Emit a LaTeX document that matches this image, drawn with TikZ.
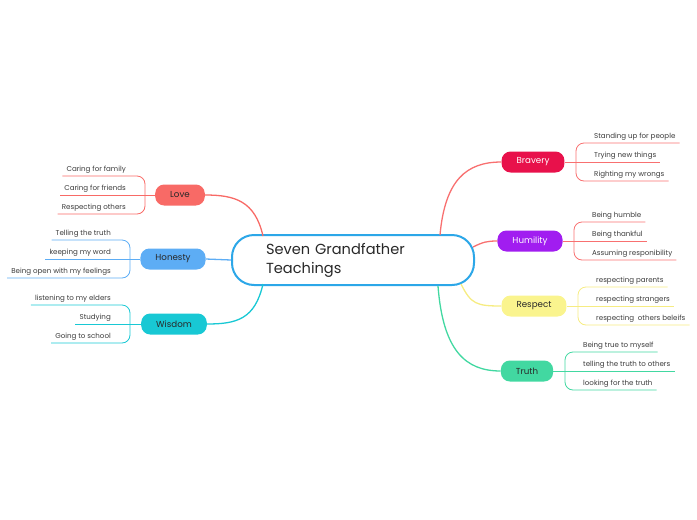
\documentclass[tikz,border=0pt]{standalone}
\usepackage{fontspec}
\setmainfont{Poppins}
\definecolor{hubblue}{RGB}{44,167,232}
\definecolor{inkgray}{RGB}{40,40,40}
\definecolor{leafgray}{RGB}{60,60,60}
\definecolor{lovecol}{RGB}{248,106,102}
\definecolor{honestycol}{RGB}{93,173,245}
\definecolor{wisdomcol}{RGB}{24,200,212}
\definecolor{braverycol}{RGB}{232,17,75}
\definecolor{humilitycol}{RGB}{161,29,240}
\definecolor{corallin}{RGB}{248,112,112}
\definecolor{respectcol}{RGB}{250,244,142}
\definecolor{respectlin}{RGB}{246,236,130}
\definecolor{truthcol}{RGB}{66,216,161}
\tikzset{
  hub/.style={draw=hubblue, line width=2pt, fill=white, rounded corners=22pt,
    minimum height=50pt, text width=174pt, inner xsep=34pt, align=left,
    font=\fontsize{14.6}{19}\selectfont, text=inkgray},
  branch/.style={rounded corners=9pt, minimum height=21pt, inner xsep=15pt,
    font=\fontsize{8.7}{10}\selectfont, text=inkgray},
  leaf/.style={inner xsep=4pt, inner ysep=2.5pt, text height=6pt, text depth=1.5pt,
    font=\fontsize{7.1}{8}\selectfont, text=leafgray},
  leafL/.style={leaf, anchor=south east},
  leafR/.style={leaf, anchor=south west},
  twig/.style={line width=0.8pt, rounded corners=8pt},
  limb/.style={line width=1.3pt}
}
\begin{document}
\begin{tikzpicture}[x=1pt,y=-1pt]
\useasboundingbox (0,0) rectangle (697,520);
% centre
\node[hub] (seven) at (353,260) {Seven Grandfather\\Teachings};
\coordinate (s-love) at (263,236);
\coordinate (s-wisdom) at (263,284);
\coordinate (s-bravery) at (440,235);
\coordinate (s-humility) at (473,247);
\coordinate (s-respect) at (461,284);
\coordinate (s-truth) at (438,286);
% the branches
\node[branch, fill=lovecol] (love) at (180,195) {Love};
\node[branch, fill=honestycol] (honesty) at (173,259) {Honesty};
\node[branch, fill=wisdomcol] (wisdom) at (174,324) {Wisdom};
\node[branch, fill=braverycol, text=white] (bravery) at (533,162) {Bravery};
\node[branch, fill=humilitycol, text=white] (humility) at (530,241) {Humility};
\node[branch, fill=respectcol] (respect) at (534,306) {Respect};
\node[branch, fill=truthcol] (truth) at (527,371) {Truth};
\draw[limb, lovecol] (s-love) .. controls +(-8,-35) and +(30,0) .. (love.east);
\draw[limb, honestycol] (seven.west) -- (honesty.east);
\draw[limb, wisdomcol] (s-wisdom) .. controls +(-8,35) and +(30,0) .. (wisdom.east);
\draw[limb, corallin] (s-bravery) .. controls +(5,-55) and +(-35,0) .. (bravery.west);
\draw[limb, corallin] (s-humility) .. controls +(10,-5) and +(-10,0) .. (humility.west);
\draw[limb, respectlin] (s-respect) .. controls +(10,20) and +(-25,0) .. (respect.west);
\draw[limb, truthcol] (s-truth) .. controls +(5,65) and +(-35,0) .. (truth.west);
% Love
\coordinate (lovec) at (145,195);
\node[leafL] (love1) at (130,176) {Caring for family};
\node[leafL] (love2) at (130,195) {Caring for friends};
\node[leafL] (love3) at (130,214) {Respecting others};
\draw[twig, lovecol] (love.west) -- (lovec);
\draw[twig, lovecol] (lovec) |- (love1.south west);
\draw[twig, lovecol] (lovec) -- (love2.south west);
\draw[twig, lovecol] (lovec) |- (love3.south west);
% Honesty
\coordinate (honestyc) at (130,259);
\node[leafL] (honesty1) at (115,240) {Telling the truth};
\node[leafL] (honesty2) at (115,259) {keeping my word};
\node[leafL] (honesty3) at (115,278) {Being open with my feelings};
\draw[twig, honestycol] (honesty.west) -- (honestyc);
\draw[twig, honestycol] (honestyc) |- (honesty1.south west);
\draw[twig, honestycol] (honestyc) -- (honesty2.south west);
\draw[twig, honestycol] (honestyc) |- (honesty3.south west);
% Wisdom
\coordinate (wisdomc) at (130,324);
\node[leafL] (wisdom1) at (115,305) {listening to my elders};
\node[leafL] (wisdom2) at (115,324) {Studying};
\node[leafL] (wisdom3) at (115,343) {Going to school};
\draw[twig, wisdomcol] (wisdom.west) -- (wisdomc);
\draw[twig, wisdomcol] (wisdomc) |- (wisdom1.south west);
\draw[twig, wisdomcol] (wisdomc) -- (wisdom2.south west);
\draw[twig, wisdomcol] (wisdomc) |- (wisdom3.south west);
% Bravery
\coordinate (braveryc) at (576,162);
\node[leafR] (bravery1) at (590,143) {Standing up for people};
\node[leafR] (bravery2) at (590,162) {Trying new things};
\node[leafR] (bravery3) at (590,181) {Righting my wrongs};
\draw[twig, corallin] (bravery.east) -- (braveryc);
\draw[twig, corallin] (braveryc) |- (bravery1.south east);
\draw[twig, corallin] (braveryc) -- (bravery2.south east);
\draw[twig, corallin] (braveryc) |- (bravery3.south east);
% Humility
\coordinate (humilityc) at (574,241);
\node[leafR] (humility1) at (588,222) {Being humble};
\node[leafR] (humility2) at (588,241) {Being thankful};
\node[leafR] (humility3) at (588,260) {Assuming responibility};
\draw[twig, corallin] (humility.east) -- (humilityc);
\draw[twig, corallin] (humilityc) |- (humility1.south east);
\draw[twig, corallin] (humilityc) -- (humility2.south east);
\draw[twig, corallin] (humilityc) |- (humility3.south east);
% Respect
\coordinate (respectc) at (578,306);
\node[leafR] (respect1) at (592,287) {respecting parents};
\node[leafR] (respect2) at (592,306) {respecting strangers};
\node[leafR] (respect3) at (592,325) {respecting\ \ others beleifs};
\draw[twig, respectlin] (respect.east) -- (respectc);
\draw[twig, respectlin] (respectc) |- (respect1.south east);
\draw[twig, respectlin] (respectc) -- (respect2.south east);
\draw[twig, respectlin] (respectc) |- (respect3.south east);
% Truth
\coordinate (truthc) at (565,371);
\node[leafR] (truth1) at (579,352) {Being true to myself};
\node[leafR] (truth2) at (579,371) {telling the truth to others};
\node[leafR] (truth3) at (579,390) {looking for the truth};
\draw[twig, truthcol] (truth.east) -- (truthc);
\draw[twig, truthcol] (truthc) |- (truth1.south east);
\draw[twig, truthcol] (truthc) -- (truth2.south east);
\draw[twig, truthcol] (truthc) |- (truth3.south east);
\end{tikzpicture}
\end{document}
